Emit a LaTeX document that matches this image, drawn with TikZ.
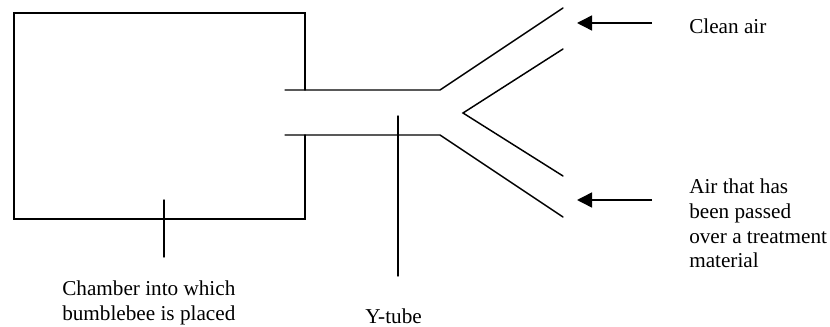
\documentclass[tikz,border=0pt]{standalone}
\usepackage{fontspec}
\setmainfont{Liberation Serif}
\usetikzlibrary{arrows.meta}

\begin{document}
\begin{tikzpicture}[x=0.75pt,y=-0.75pt]
        \tikzstyle{wall}=[line width=1.1pt, line cap=round]
        \tikzstyle{pointer}=[line width=1.1pt, -{Triangle[length=11.25pt,width=11.25pt]}]
        \tikzstyle{label}=[inner sep=0pt, align=left, anchor=north west, font=\fontsize{15.9}{18.4}\selectfont]

        \useasboundingbox (0,0) rectangle (830,327);

        % chamber
        \coordinate (topleft) at (14,13);
        \coordinate (topright) at (305,13);
        \coordinate (upperjoin) at (305,90);
        \coordinate (lowerjoin) at (305,135);
        \coordinate (botright) at (305,219);
        \coordinate (botleft) at (14,219);

        % tube
        \coordinate (upperin) at (285,90);
        \coordinate (upperfork) at (440,90);
        \coordinate (upperend) at (563,8);
        \coordinate (lowerin) at (285,135);
        \coordinate (lowerfork) at (440,135);
        \coordinate (lowerend) at (563,217);
        \coordinate (innerup) at (563,49);
        \coordinate (innertip) at (463,113);
        \coordinate (innerdown) at (563,176);

        % pointers
        \coordinate (chamberup) at (164,200);
        \coordinate (chamberdown) at (164,257);
        \coordinate (tubeup) at (398,116);
        \coordinate (tubedown) at (398,276);
        \coordinate (cleanstart) at (652,23);
        \coordinate (cleanend) at (577,23);
        \coordinate (treatstart) at (652,200);
        \coordinate (treatend) at (577,200);

        \node[label] (chamber) at (62,281) {Chamber into which\\bumblebee is placed};
        \node[label] (ytube) at (365,309) {Y-tube};
        \node[label] (clean) at (689,19) {Clean air};
        \node[label] (treated) at (689,179) {Air that has\\been passed\\over a treatment\\material};

        \draw[wall] (upperjoin) -- (topright) -- (topleft) -- (botleft) -- (botright) -- (lowerjoin);
        \draw[wall] (upperin) -- (upperfork) -- (upperend);
        \draw[wall] (lowerin) -- (lowerfork) -- (lowerend);
        \draw[wall] (innerup) -- (innertip) -- (innerdown);

        \draw[wall] (chamberup) -- (chamberdown);
        \draw[wall] (tubeup) -- (tubedown);
        \draw[pointer] (cleanstart) -- (cleanend);
        \draw[pointer] (treatstart) -- (treatend);
    \end{tikzpicture}
\end{document}
